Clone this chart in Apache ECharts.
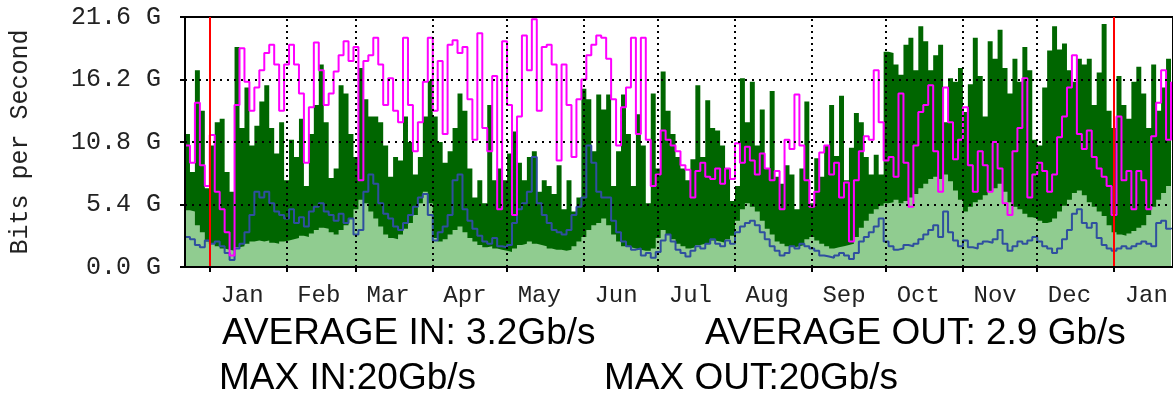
<!DOCTYPE html>
<html><head><meta charset="utf-8">
<script src="https://cdn.jsdelivr.net/npm/echarts@6/dist/echarts.min.js"></script>
<style>html,body{margin:0;padding:0;background:#fff}#c{width:1173px;height:395px}</style>
</head><body><div id="c"></div>
<script>
// ---- data ----
const monthNames = ['Jan','Feb','Mar','Apr','May','Jun','Jul','Aug','Sep','Oct','Nov','Dec','Jan'];
const monthStartDays = [0,31,59,90,120,151,181,212,243,273,304,334,365];
const yearMarkDays = [0,365];
const yTicks = [0,5.4,10.8,16.2,21.6];
const sampleStartDay = -10;
const sampleStepDays = 2;

// max out (magenta), Gb/s
const maxOut = [
10.5,9.0,14.2,8.8,7.0,11.4,6.5,5.0,3.0,1.0,14.0,18.9,16.0,13.5,15.5,17.0,18.5,19.2,17.5,13.5,17.5,19.2,17.5,15.0,9.0,13.8,19.4,17.0,
14.0,15.0,16.9,18.3,19.5,17.8,19.0,7.5,17.8,18.3,19.8,17.5,14.0,16.3,13.5,12.5,19.8,14.0,10.0,12.5,16.0,19.8,13.5,17.8,11.5,19.2,19.6,18.5,
19.0,14.5,11.0,20.2,12.0,10.0,16.5,5.0,19.5,14.0,4.5,13.0,20.0,17.0,21.4,13.5,19.0,19.2,17.5,9.2,17.5,14.0,9.5,14.5,16.2,18.3,19.2,20.0,
19.8,18.0,14.5,10.5,13.8,15.5,19.8,11.5,19.8,11.0,7.0,8.0,11.8,11.0,10.5,10.0,8.8,8.4,6.0,8.3,9.0,7.8,7.6,8.5,7.2,8.5,7.6,10.7,
9.0,10.4,9.2,8.0,9.8,8.5,7.5,8.3,5.0,11.0,10.2,14.9,10.5,7.5,5.2,6.5,9.9,10.5,8.0,9.0,6.0,7.3,2.2,7.5,10.0,11.3,11.0,17.0,
12.5,9.2,9.5,7.8,15.0,9.0,5.2,10.5,13.4,14.0,15.7,10.0,6.5,15.5,12.5,9.3,11.0,13.8,8.8,6.5,10.0,8.8,6.5,10.8,8.5,5.5,4.5,10.0,
12.0,16.3,6.0,8.0,9.0,8.3,6.5,8.0,11.2,13.0,15.5,18.3,11.5,10.2,11.8,9.5,8.5,7.8,7.0,4.5,13.0,7.5,8.3,5.0,8.3,7.5,5.0,11.3,14.2,17.0,11.0,16.0
];
// max in (dark green)
const maxIn = [
11.5,8.2,17.0,13.5,6.8,10.5,12.5,12.8,8.2,6.5,19.0,12.0,15.5,10.5,12.2,14.3,15.7,12.0,9.8,12.5,7.5,11.0,9.5,12.8,7.0,11.5,14.0,17.5,
12.5,7.7,8.5,15.7,15.0,11.5,9.5,17.2,14.5,13.0,13.0,12.5,10.5,7.8,9.5,9.2,13.0,10.8,8.0,9.5,13.0,16.1,13.0,10.8,9.0,10.0,12.0,15.0,
13.5,8.5,6.0,7.5,5.5,14.0,7.5,8.5,7.5,9.8,11.7,9.0,7.5,9.5,10.0,6.5,7.5,7.0,6.3,8.8,5.0,7.5,4.8,6.0,15.4,14.5,10.0,14.9,
13.6,14.9,7.0,10.0,14.9,11.5,7.0,13.2,10.5,5.5,15.0,8.5,16.9,13.5,11.5,9.5,8.5,7.5,9.3,15.7,9.5,14.4,12.0,11.8,10.5,8.5,5.7,7.0,
16.3,12.5,16.0,10.5,13.6,8.5,15.2,7.8,7.2,8.8,8.0,5.0,8.5,14.3,5.5,9.4,7.8,10.5,14.0,9.6,14.8,7.5,10.3,13.3,12.5,9.5,8.0,9.7,
8.0,18.6,18.5,17.5,16.6,19.2,19.8,17.0,20.8,19.5,17.0,18.3,19.2,12.5,16.3,16.0,17.2,13.4,15.8,19.8,16.5,13.0,19.5,18.0,20.5,17.2,15.0,18.0,
16.0,19.0,17.0,11.0,10.5,15.5,18.7,20.8,18.8,19.3,17.0,16.0,18.0,17.5,18.0,14.0,16.8,21.0,13.5,12.0,16.5,14.0,12.8,16.0,17.3,15.0,12.0,17.5,13.5,15.5,18.0,18.0
];
// average out (blue)
const avgOut = [
2.6,2.4,1.9,1.7,2.3,2.0,2.2,1.8,1.2,0.6,1.6,2.0,3.0,4.5,6.5,6.0,6.5,5.5,4.8,4.5,4.2,5.0,3.8,4.3,3.5,4.8,5.2,5.5,
4.8,4.5,4.0,4.6,3.8,4.2,2.8,3.2,6.5,8.0,7.2,5.5,4.6,4.2,3.5,3.2,3.8,4.5,5.2,6.0,6.3,4.5,2.3,3.0,3.5,4.5,7.5,8.0,
5.0,4.0,3.3,2.7,2.2,2.0,2.5,1.8,1.7,1.9,3.8,5.0,5.5,6.5,9.5,5.5,4.5,3.8,3.2,3.0,2.8,3.2,4.5,5.2,6.0,10.5,9.0,6.5,
6.0,6.0,4.0,3.0,2.2,1.8,1.5,1.6,1.0,1.2,0.8,1.3,2.3,2.8,2.2,1.5,1.2,0.9,1.4,1.8,1.6,2.0,2.4,2.0,1.8,2.3,2.0,3.0,
3.5,3.8,4.0,3.6,3.0,2.4,1.8,1.4,1.0,1.2,1.8,1.6,2.0,1.8,1.6,1.4,1.0,0.9,0.8,1.0,1.2,1.0,0.7,1.2,2.2,2.6,3.0,3.5,
4.2,2.2,1.8,1.5,1.6,1.9,1.8,2.0,2.4,2.8,3.2,3.6,2.6,4.8,3.0,2.3,1.8,2.3,1.7,1.6,2.0,2.2,2.1,2.4,3.2,2.0,1.4,1.8,
2.2,2.0,2.3,2.6,2.2,1.8,1.6,1.2,1.6,2.4,3.2,4.6,5.0,3.8,3.4,3.8,2.5,1.9,1.6,1.4,1.6,1.8,1.6,1.8,2.0,2.2,2.0,1.8,3.8,4.0,3.3,3.4
];
// average in (light green)
const avgIn = [
4.9,4.8,3.6,3.0,2.2,2.0,1.8,1.6,1.5,1.4,1.7,1.8,2.0,2.2,2.3,2.2,2.3,2.1,2.0,2.2,2.3,2.4,2.5,2.7,2.6,2.9,3.2,3.4,
3.3,3.0,2.8,3.2,3.6,4.2,5.0,5.8,5.5,4.8,4.2,3.5,2.8,2.5,2.4,2.8,3.3,3.8,4.5,5.5,6.5,5.5,2.5,2.2,2.4,2.8,3.2,3.5,
3.0,2.5,2.2,1.9,1.7,1.8,1.6,1.5,1.4,1.3,1.6,1.9,2.0,2.2,2.0,1.9,1.8,1.6,1.5,1.5,1.4,1.5,1.8,2.2,2.6,3.2,3.6,3.8,
4.2,3.6,2.8,2.2,1.8,1.7,1.6,1.5,1.4,1.4,1.6,2.5,3.2,2.8,2.4,2.0,1.8,1.6,1.7,1.9,2.0,2.1,2.3,2.2,2.1,2.4,2.7,4.0,
5.0,5.5,5.2,4.8,4.0,3.3,2.8,2.2,2.0,1.8,1.7,1.8,1.9,2.4,2.6,2.3,2.0,1.8,1.6,1.7,1.8,1.9,2.0,2.6,3.4,4.0,4.6,5.0,
5.3,5.5,5.6,5.8,5.5,5.7,6.0,6.3,6.8,7.2,7.6,7.8,7.6,8.0,7.4,6.6,5.8,4.8,5.2,5.6,5.8,6.2,6.5,6.8,7.2,6.5,5.6,5.2,
5.0,4.6,4.3,4.2,4.0,3.8,3.9,4.2,4.8,5.3,5.8,6.4,6.6,6.2,5.6,5.2,4.8,4.4,3.6,3.0,2.8,2.7,2.9,3.1,3.4,3.6,4.5,5.2,5.8,6.4,7.0,7.0
];
const statsLines = ['AVERAGE IN: 3.2Gb/s','AVERAGE OUT: 2.9 Gb/s','MAX IN:20Gb/s','MAX OUT:20Gb/s'];
const yTitle = 'Bits per Second';

// ---- chart ----
const toPts = arr => arr.map((v,i) => [sampleStartDay + i*sampleStepDays, v]);
const labelDays = monthStartDays.map(d => d + 13);
const mono = '"Liberation Mono", "DejaVu Sans Mono", monospace';
const sans = '37px "Liberation Sans", Arial, sans-serif';
const chart = echarts.init(document.getElementById('c'), null, {renderer:'canvas'});

const gridLines = [];
yTicks.filter((v,i) => i > 0 && i < yTicks.length - 1).forEach(v => gridLines.push({yAxis: v, lineStyle:{type:[2,5], width:2, color:'#000'}}));
monthStartDays.filter(d => yearMarkDays.indexOf(d) < 0).forEach(d => gridLines.push({xAxis: d, lineStyle:{type:[2,4], width:2, color:'#000'}}));
const redLines = yearMarkDays.map(d => ({xAxis: d, lineStyle:{type:'solid', width:2, color:'#ff0000'}}));

const stepLine = (name, arr, color, z, area) => ({
  type:'line', name, data: toPts(arr), step:'end', symbol:'none', z,
  lineStyle: area ? {width:0, color} : {width:2, color},
  areaStyle: area ? {color, opacity:1} : undefined,
  emphasis:{disabled:true}, silent:true, animation:false
});

chart.setOption({
  animation:false,
  grid:{left:183, top:17, width:992, height:250, show:true, borderColor:'#000', borderWidth:2, backgroundColor:'#fff'},
  xAxis:{
    type:'value', min: sampleStartDay, max: 388.8, z:10,
    axisLine:{show:true, onZero:false, lineStyle:{color:'#000', width:2}},
    axisTick:{show:true, customValues: monthStartDays, length:5, lineStyle:{color:'#000', width:2}},
    axisLabel:{customValues: labelDays, margin:17, fontFamily: mono, fontSize:24, color:'#222',
      formatter: v => { const i = labelDays.indexOf(v); return i >= 0 ? monthNames[i] : ''; }},
    splitLine:{show:false}
  },
  yAxis:{
    type:'value', min:0, max:21.6, interval:5.4, z:10,
    name: yTitle, nameLocation:'middle', nameRotate:90, nameGap:152,
    nameTextStyle:{fontFamily: mono, fontSize:25, color:'#222'},
    axisLine:{show:true, onZero:false, lineStyle:{color:'#000', width:2}},
    axisTick:{show:true, length:5, lineStyle:{color:'#000', width:2}},
    axisLabel:{margin:24, fontFamily: mono, fontSize:25, color:'#222', padding:[16,0,0,0],
      formatter: v => v.toFixed(1) + ' G'},
    splitLine:{show:false}
  },
  series:[
    stepLine('Max In', maxIn, '#006600', 2, true),
    stepLine('Average In', avgIn, '#90cc90', 2, true),
    {type:'line', data:[], z:3, silent:true, markLine:{silent:true, symbol:'none', label:{show:false}, animation:false, data: gridLines}},
    stepLine('Average Out', avgOut, '#2f4f9f', 4, false),
    stepLine('Max Out', maxOut, '#ff00ff', 4, false),
    {type:'line', data:[], z:12, zlevel:0, silent:true, markLine:{silent:true, symbol:'none', label:{show:false}, animation:false, data: redLines}}
  ],
  graphic:[
    {type:'text', x:222, y:334, style:{text: statsLines[0], font: sans, fill:'#000', verticalAlign:'middle'}},
    {type:'text', x:705, y:334, style:{text: statsLines[1], font: sans, fill:'#000', verticalAlign:'middle'}},
    {type:'text', x:219, y:379, style:{text: statsLines[2], font: sans, fill:'#000', verticalAlign:'middle'}},
    {type:'text', x:604, y:379, style:{text: statsLines[3], font: sans, fill:'#000', verticalAlign:'middle'}}
  ]
});
</script></body></html>
